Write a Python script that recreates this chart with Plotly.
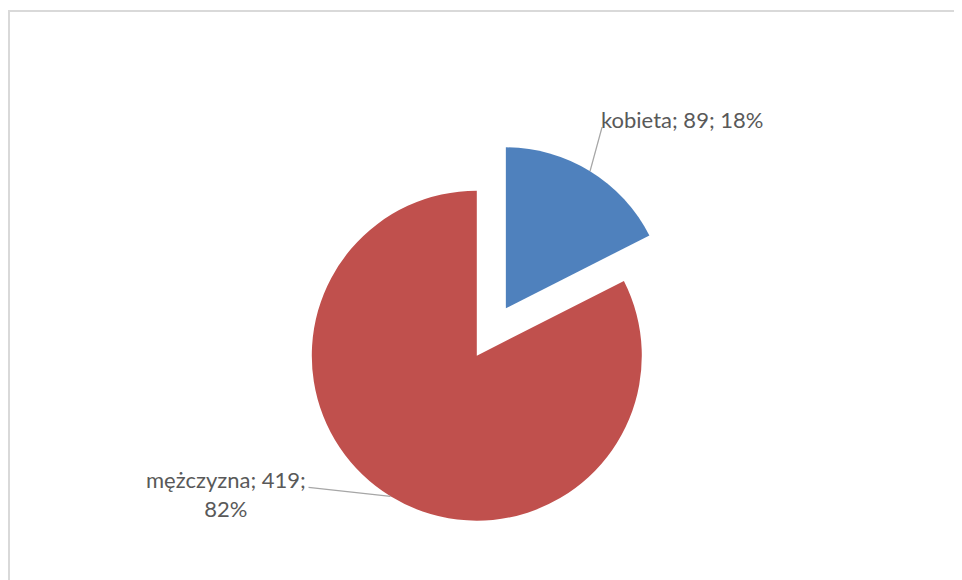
import math
import plotly.graph_objects as go

# ---- data ----
labels = ["kobieta", "mężczyzna"]
values = [89, 419]
percents = ["18%", "82%"]
colors = ["#4F81BD", "#C0504D"]
pulls = [0.345, 0]

# ---- layout geometry (pixels, page is drawn with an 8px body offset) ----
W, H = 962, 580
OFF = 8
cx, cy = 476.8 - OFF, 355.7 - OFF
radii = [161, 165]          # exploded slice is drawn a little smaller
CLEAR = "rgba(0,0,0,0)"


def px(x):
    return x / W


def py(y):
    return 1 - y / H


fig = go.Figure()
# one trace per visible slice so each can have its own radius
for i in range(len(values)):
    R = radii[i]
    half = R * (1 + pulls[i])
    dom_x = [(cx - half) / W, (cx + half) / W]
    dom_y = [(H - cy - half) / H, (H - cy + half) / H]
    slice_colors = [colors[j] if j == i else CLEAR for j in range(len(values))]
    slice_pull = [pulls[i] if j == i else 0 for j in range(len(values))]
    fig.add_trace(go.Pie(
        labels=labels, values=values, sort=False, direction="clockwise", rotation=0,
        pull=slice_pull, marker=dict(colors=slice_colors, line=dict(width=0)),
        textinfo="none", hoverinfo="skip", showlegend=False,
        domain=dict(x=dom_x, y=dom_y),
    ))

# leader lines + labels computed from slice angles
total = sum(values)
start = 0.0
line_offsets = [(12, -44), (-82, -9)]
texts = [f"{labels[0]}; {values[0]}; {percents[0]}",
         f"{labels[1]}; {values[1]};<br>{percents[1]}"]
shapes = []
annotations = []
for i, v in enumerate(values):
    R = radii[i]
    frac = v / total
    mid = (start + frac / 2) * 2 * math.pi
    start += frac
    dx, dy = math.sin(mid), -math.cos(mid)
    ccx = cx + pulls[i] * R * dx
    ccy = cy + pulls[i] * R * dy
    tx, ty = ccx + R * dx, ccy + R * dy
    ex, ey = tx + line_offsets[i][0], ty + line_offsets[i][1]
    shapes.append(dict(type="line", xref="paper", yref="paper",
                       x0=px(tx), y0=py(ty), x1=px(ex), y1=py(ey),
                       line=dict(color="#A6A6A6", width=1.3)))
    if i == 0:
        annotations.append(dict(text=texts[i], xref="paper", yref="paper",
                                x=px(ex - 3), y=py(ey + 8), xanchor="left", yanchor="bottom",
                                showarrow=False, align="left"))
    else:
        annotations.append(dict(text=texts[i], xref="paper", yref="paper",
                                x=px(ex - 1), y=py(ey + 7), xanchor="right", yanchor="middle",
                                showarrow=False, align="center"))

# chart border
shapes.append(dict(type="rect", xref="paper", yref="paper",
                   x0=px(9 - OFF), y0=-0.05, x1=1.05, y1=py(11 - OFF),
                   line=dict(color="#D9D9D9", width=2), fillcolor="rgba(0,0,0,0)"))

fig.update_layout(
    width=W, height=H,
    margin=dict(l=0, r=0, t=0, b=0),
    paper_bgcolor="white", plot_bgcolor="white",
    font=dict(family="Lato, Liberation Sans, sans-serif", size=22, color="#595959"),
    shapes=shapes, annotations=annotations,
)

fig.write_html("out.html")
